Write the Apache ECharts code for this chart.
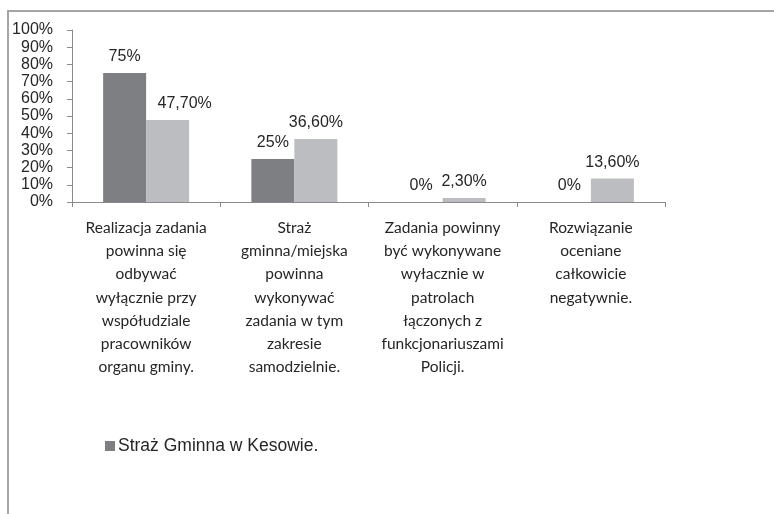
<!DOCTYPE html>
<html>
<head>
<meta charset="utf-8">
<script src="https://cdn.jsdelivr.net/npm/echarts@6/dist/echarts.min.js"></script>
<style>
  html, body { margin: 0; padding: 0; background: #fff; }
  #frame {
    position: absolute; left: 7px; top: 10px; width: 780px; height: 520px;
    border-top: 2px solid #a6a6a6; border-left: 2px solid #a6a6a6;
  }
  #charts { position: absolute; left: 0; top: 0; width: 774px; height: 514px; }
</style>
</head>
<body>
<div id="frame"></div>
<div id="charts"></div>
<script>
// kategorie (osie X), zawinięte tak jak na oryginale
let categories = [
  "Realizacja zadania\npowinna się\nodbywać\nwyłącznie przy\nwspółudziale\npracowników\norganu gminy.",
  "Straż\ngminna/miejska\npowinna\nwykonywać\nzadania w tym\nzakresie\nsamodzielnie.",
  "Zadania powinny\nbyć wykonywane\nwyłacznie w\npatrolach\nłączonych z\nfunkcjonariuszami\nPolicji.",
  "Rozwiązanie\noceniane\ncałkowicie\nnegatywnie."
];
let seriesNames = ["Straż Gminna w Kesowie.", "Ogółem"];
let kesowo = [75, 25, 0, 0];
let ogolem = [47.7, 36.6, 2.3, 13.6];
let yTicks = [0, 10, 20, 30, 40, 50, 60, 70, 80, 90, 100];

let colors = ["#7e7f83", "#bcbdc1"];
let textColor = "#262626";
let axisColor = "#8a8a8a";

let chartDom = document.getElementById("charts");
let myChart = echarts.init(chartDom);

let option = {
  animation: false,
  grid: {
    left: 72,
    right: 109,
    top: 30,
    bottom: 312,
    containLabel: false,
  },
  legend: {
    data: [seriesNames[0]],
    left: 100,
    top: 432,
    itemWidth: 10,
    itemHeight: 10,
    itemGap: 10,
    icon: "rect",
    textStyle: {
      fontFamily: "Liberation Sans",
      fontSize: 17.5,
      color: textColor,
      padding: [0, 0, 0, -2],
    },
  },
  xAxis: {
    type: "category",
    data: categories,
    axisLine: { show: true, lineStyle: { color: axisColor, width: 1 } },
    axisTick: { show: true, length: 5, interval: 0, lineStyle: { color: axisColor } },
    axisLabel: {
      interval: 0,
      margin: 14,
      color: textColor,
      fontFamily: "Lato",
      fontSize: 15.5,
      lineHeight: 23.3,
      align: "center",
      verticalAlign: "top",
    },
  },
  yAxis: {
    type: "value",
    min: yTicks[0],
    max: yTicks[yTicks.length - 1],
    interval: 10,
    axisLine: { show: true, lineStyle: { color: axisColor, width: 1 } },
    axisTick: { show: true, length: 5, lineStyle: { color: axisColor } },
    splitLine: { show: false },
    axisLabel: {
      margin: 19,
      color: textColor,
      fontFamily: "Liberation Sans",
      fontSize: 16,
      formatter: "{value}%",
    },
  },
  series: [
    {
      name: seriesNames[0],
      type: "bar",
      data: kesowo,
      barWidth: 43,
      barGap: "0%",
      itemStyle: { color: colors[0] },
      label: {
        show: true,
        position: "top",
        distance: 8,
        color: textColor,
        fontFamily: "Liberation Sans",
        fontSize: 16,
        formatter: function (p) {
          return p.value + "%";
        },
      },
    },
    {
      name: seriesNames[1],
      type: "bar",
      data: ogolem.map(function (v, i) {
        // etykieta pierwszego słupka przesunięta w prawo jak w oryginale
        if (i === 0) {
          return { value: v, label: { offset: [17, 0] } };
        }
        return v;
      }),
      barWidth: 43,
      barGap: "0%",
      itemStyle: { color: colors[1] },
      label: {
        show: true,
        position: "top",
        distance: 8,
        color: textColor,
        fontFamily: "Liberation Sans",
        fontSize: 16,
        formatter: function (p) {
          return p.value.toFixed(2).replace(".", ",") + "%";
        },
      },
    },
  ],
};

option && myChart.setOption(option);
</script>
</body>
</html>
